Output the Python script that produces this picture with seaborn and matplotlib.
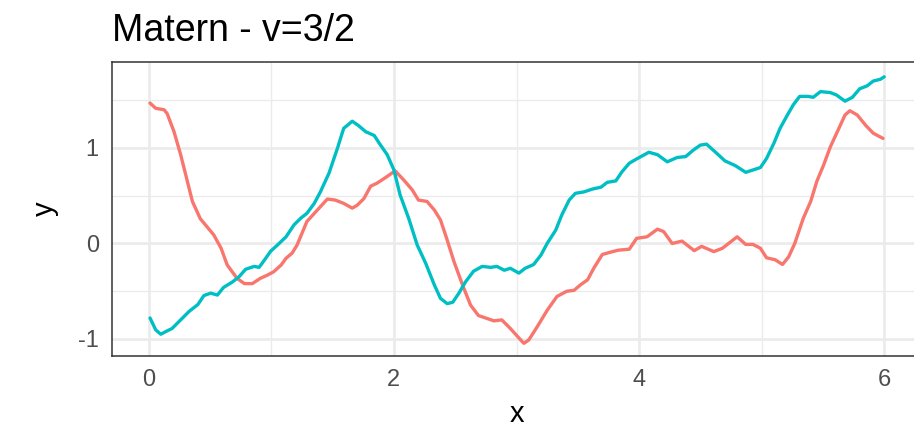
import pandas as pd
import matplotlib
matplotlib.use("Agg")
import matplotlib.pyplot as plt
import seaborn as sns

# Two sample paths (x, y)
RED_X = [0.01, 0.057, 0.125, 0.15, 0.206, 0.26, 0.315, 0.356, 0.42, 0.53, 0.59, 0.64, 0.72, 0.78,
         0.845, 0.91, 0.97, 1.02, 1.08, 1.12, 1.17, 1.21, 1.29, 1.375, 1.457, 1.52, 1.59, 1.66,
         1.70, 1.755, 1.81, 1.86, 1.92, 2.01, 2.08, 2.15, 2.20, 2.27, 2.33, 2.38, 2.43, 2.49,
         2.56, 2.625, 2.69, 2.76, 2.815, 2.88, 2.95, 3.02, 3.06, 3.10, 3.17, 3.25, 3.33, 3.41,
         3.47, 3.52, 3.58, 3.63, 3.70, 3.77, 3.83, 3.92, 3.98, 4.065, 4.15, 4.20, 4.27, 4.35,
         4.45, 4.51, 4.61, 4.68, 4.80, 4.87, 4.93, 4.99, 5.04, 5.11, 5.17, 5.22, 5.27, 5.34,
         5.40, 5.45, 5.505, 5.56, 5.63, 5.68, 5.72, 5.78, 5.85, 5.91, 5.99]
RED_Y = [1.47, 1.415, 1.40, 1.36, 1.17, 0.93, 0.65, 0.44, 0.26, 0.09, -0.05, -0.225, -0.365, -0.42,
         -0.42, -0.365, -0.33, -0.295, -0.225, -0.155, -0.10, -0.016, 0.23, 0.35, 0.465, 0.455,
         0.42, 0.37, 0.40, 0.47, 0.60, 0.63, 0.68, 0.76, 0.665, 0.56, 0.455, 0.44, 0.35, 0.246,
         0.054, -0.19, -0.435, -0.645, -0.755, -0.785, -0.81, -0.80, -0.89, -0.99, -1.045, -1.01,
         -0.87, -0.70, -0.555, -0.50, -0.49, -0.435, -0.38, -0.26, -0.115, -0.09, -0.07, -0.06,
         0.054, 0.07, 0.15, 0.125, 0.0, 0.025, -0.075, -0.03, -0.085, -0.05, 0.07, -0.01, -0.01,
         -0.05, -0.15, -0.17, -0.22, -0.14, 0.0, 0.265, 0.44, 0.65, 0.82, 1.01, 1.205, 1.345,
         1.39, 1.345, 1.235, 1.155, 1.10]

TEAL_X = [0.01, 0.057, 0.098, 0.15, 0.19, 0.26, 0.33, 0.40, 0.45, 0.505, 0.56, 0.61, 0.68, 0.735,
          0.79, 0.86, 0.90, 0.94, 0.995, 1.05, 1.12, 1.185, 1.24, 1.29, 1.35, 1.40, 1.47, 1.54,
          1.59, 1.66, 1.71, 1.77, 1.84, 1.88, 1.945, 2.00, 2.05, 2.12, 2.19, 2.26, 2.33, 2.38,
          2.435, 2.48, 2.53, 2.585, 2.65, 2.72, 2.79, 2.84, 2.90, 2.95, 3.02, 3.07, 3.14, 3.20,
          3.25, 3.32, 3.37, 3.43, 3.48, 3.55, 3.62, 3.69, 3.74, 3.81, 3.86, 3.92, 3.98, 4.08,
          4.15, 4.23, 4.31, 4.38, 4.445, 4.50, 4.55, 4.62, 4.70, 4.785, 4.87, 4.93, 4.99, 5.04,
          5.10, 5.15, 5.21, 5.26, 5.31, 5.38, 5.42, 5.48, 5.56, 5.61, 5.68, 5.74, 5.80, 5.86,
          5.91, 5.97, 6.0]
TEAL_Y = [-0.78, -0.905, -0.95, -0.915, -0.89, -0.80, -0.71, -0.64, -0.545, -0.52, -0.54, -0.46,
          -0.405, -0.35, -0.27, -0.24, -0.25, -0.18, -0.08, -0.016, 0.07, 0.195, 0.265, 0.315,
          0.42, 0.54, 0.735, 1.0, 1.205, 1.28, 1.235, 1.17, 1.13, 1.05, 0.93, 0.77, 0.51, 0.265,
          -0.016, -0.21, -0.435, -0.575, -0.63, -0.615, -0.52, -0.40, -0.29, -0.24, -0.25, -0.24,
          -0.28, -0.26, -0.31, -0.26, -0.22, -0.12, 0.0, 0.14, 0.30, 0.455, 0.525, 0.54, 0.57,
          0.59, 0.64, 0.655, 0.75, 0.84, 0.885, 0.955, 0.93, 0.855, 0.90, 0.91, 0.98, 1.03, 1.04,
          0.96, 0.865, 0.815, 0.745, 0.77, 0.795, 0.89, 1.05, 1.205, 1.345, 1.455, 1.54, 1.54,
          1.53, 1.59, 1.58, 1.555, 1.49, 1.53, 1.62, 1.65, 1.70, 1.72, 1.745]

X_TICKS = [0, 2, 4, 6]
Y_TICKS = [-1, 0, 1]
X_MINOR = [1, 3, 5]
Y_MINOR = [-0.5, 0.5, 1.5]

df = pd.concat([
    pd.DataFrame({"x": RED_X, "y": RED_Y, "path": "a"}),
    pd.DataFrame({"x": TEAL_X, "y": TEAL_Y, "path": "b"}),
])

sns.set_theme(style="white")
plt.rcParams["font.family"] = ["Liberation Sans", "DejaVu Sans"]

fig = plt.figure(figsize=(9.14, 4.28), dpi=100)
ax = fig.add_axes([112 / 914, 1 - 356 / 428, (921 - 112) / 914, (356 - 62) / 428])

sns.lineplot(data=df, x="x", y="y", hue="path", estimator=None, sort=False,
             palette={"a": "#F8766D", "b": "#00BFC4"}, linewidth=2.4,
             solid_joinstyle="round", solid_capstyle="round",
             legend=False, ax=ax, zorder=3)

ax.set_xlim(-0.3, 6.3)
ax.set_ylim(-1.178, 1.90)
ax.set_xticks(X_TICKS)
ax.set_yticks(Y_TICKS)
ax.set_xticks(X_MINOR, minor=True)
ax.set_yticks(Y_MINOR, minor=True)
ax.set_yticklabels([str(t) for t in Y_TICKS])

ax.grid(which="major", color="#EBEBEB", linewidth=1.9)
ax.grid(which="minor", color="#EBEBEB", linewidth=1.0)
ax.set_axisbelow(True)

for s in ax.spines.values():
    s.set_color("#333333")
    s.set_linewidth(1.1)

ax.tick_params(which="major", length=5.5, width=1.1, color="#333333",
               labelsize=17, labelcolor="#4D4D4D", pad=4)
ax.tick_params(which="minor", length=0)

ax.set_xlabel("x", fontsize=21, color="black", labelpad=6)
ax.set_ylabel("y", fontsize=21, color="black", labelpad=14)
ax.set_title("Matern - v=3/2", loc="left", fontsize=27, color="black", pad=15)

fig.savefig("out.png", dpi=100)
